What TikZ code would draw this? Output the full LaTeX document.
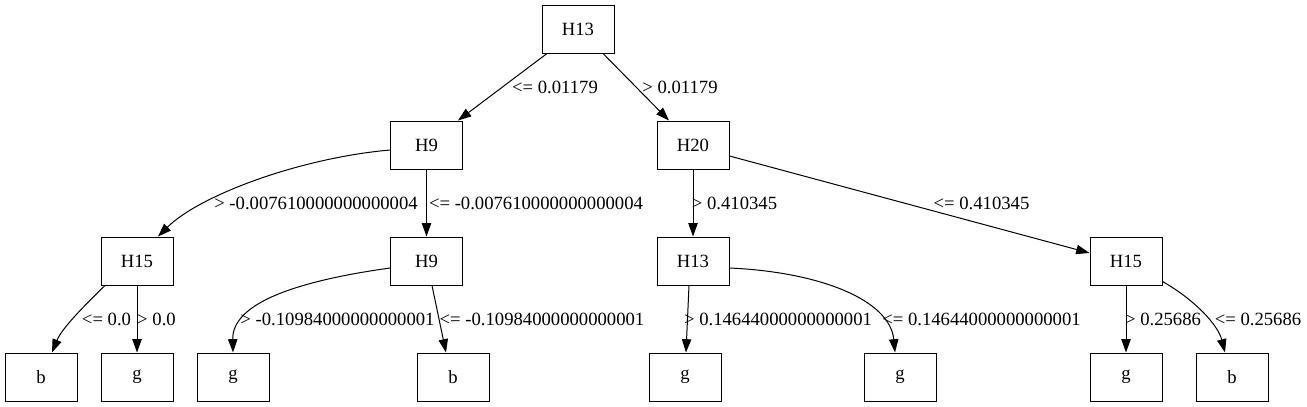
\documentclass[tikz,border=0pt]{standalone}
\usepackage{fontspec}
\setmainfont{Liberation Serif}
\usetikzlibrary{arrows.meta,calc}
\begin{document}
\begin{tikzpicture}[x=0.75pt,y=-0.75pt,
  tnode/.style={draw,line width=0.75pt,minimum width=54pt,minimum height=36pt,inner sep=0pt,font=\fontsize{14}{16}\selectfont},
  edge/.style={line width=0.75pt,-{Triangle[length=10pt,width=7pt]}},
  lbl/.style={font=\fontsize{14}{16}\selectfont,inner sep=0pt}]
\useasboundingbox (0,0) rectangle (1307,407);
\node[tnode] (n0) at (578,29) {H13};
\node[tnode] (n1) at (426.5,145) {H9};
\node[tnode] (n2) at (693,145) {H20};
\node[tnode] (n3) at (137,261) {H15};
\node[tnode] (n4) at (426.5,261) {H9};
\node[tnode] (n5) at (693,261) {H13};
\node[tnode] (n6) at (1126,261) {H15};
\node[tnode] (l1) at (41,377) {b};
\node[tnode] (l2) at (137,377) {g};
\node[tnode] (l3) at (233,377) {g};
\node[tnode] (l4) at (453,377) {b};
\node[tnode] (l5) at (685,377) {g};
\node[tnode] (l6) at (900,377) {g};
\node[tnode] (l7) at (1126,377) {g};
\node[tnode] (l8) at (1232,377) {b};

\draw[edge] ($(n0.south)+(-31,0)$) -- ($(n1.north)+(31.5,0)$) node[lbl] at (555,87) {<= 0.01179};
\draw[edge] ($(n0.south)+(25,0)$) -- ($(n2.north)+(-24,0)$) node[lbl] at (680,87) {> 0.01179};
\draw[edge] ($(n1.west)+(0,5)$) .. controls (300,158) and (200,195) .. ($(n3.north)+(21,0)$) node[lbl] at (316,203) {> -0.007610000000000004};
\draw[edge] (n1.south) -- (n4.north) node[lbl] at (536,203) {<= -0.007610000000000004};
\draw[edge] (n2.south) -- (n5.north) node[lbl] at (734.5,203) {> 0.410345};
\draw[edge] ($(n2.east)+(0,11)$) -- ($(n6.west)+(0,-8)$) node[lbl] at (981.5,203) {<= 0.410345};
\draw[edge] ($(n3.south)+(-32,0)$) .. controls (85,305) and (62,328) .. ($(l1.north)+(11,0)$) node[lbl] at (106.5,319) {<= 0.0};
\draw[edge] (n3.south) -- (l2.north) node[lbl] at (156.5,319) {> 0.0};
\draw[edge] ($(n4.west)+(0,7)$) .. controls (290,282) and (232,305) .. (l3.north) node[lbl] at (337.5,319) {> -0.10984000000000001};
\draw[edge] ($(n4.south)+(5.5,0)$) -- ($(l4.north)+(-7,0)$) node[lbl] at (542,319) {<= -0.10984000000000001};
\draw[edge] ($(n5.south)+(-4,0)$) -- ($(l5.north)+(1,0)$) node[lbl] at (778,319) {> 0.14644000000000001};
\draw[edge] ($(n5.east)+(0,7)$) .. controls (820,272) and (890,300) .. ($(l6.north)+(-5,0)$) node[lbl] at (981.5,319) {<= 0.14644000000000001};
\draw[edge] (n6.south) -- (l7.north) node[lbl] at (1163,319) {> 0.25686};
\draw[edge] ($(n6.south east)+(0,-4)$) .. controls (1195,300) and (1218,325) .. ($(l8.north)+(-7,0)$) node[lbl] at (1258,319) {<= 0.25686};
\end{tikzpicture}
\end{document}
